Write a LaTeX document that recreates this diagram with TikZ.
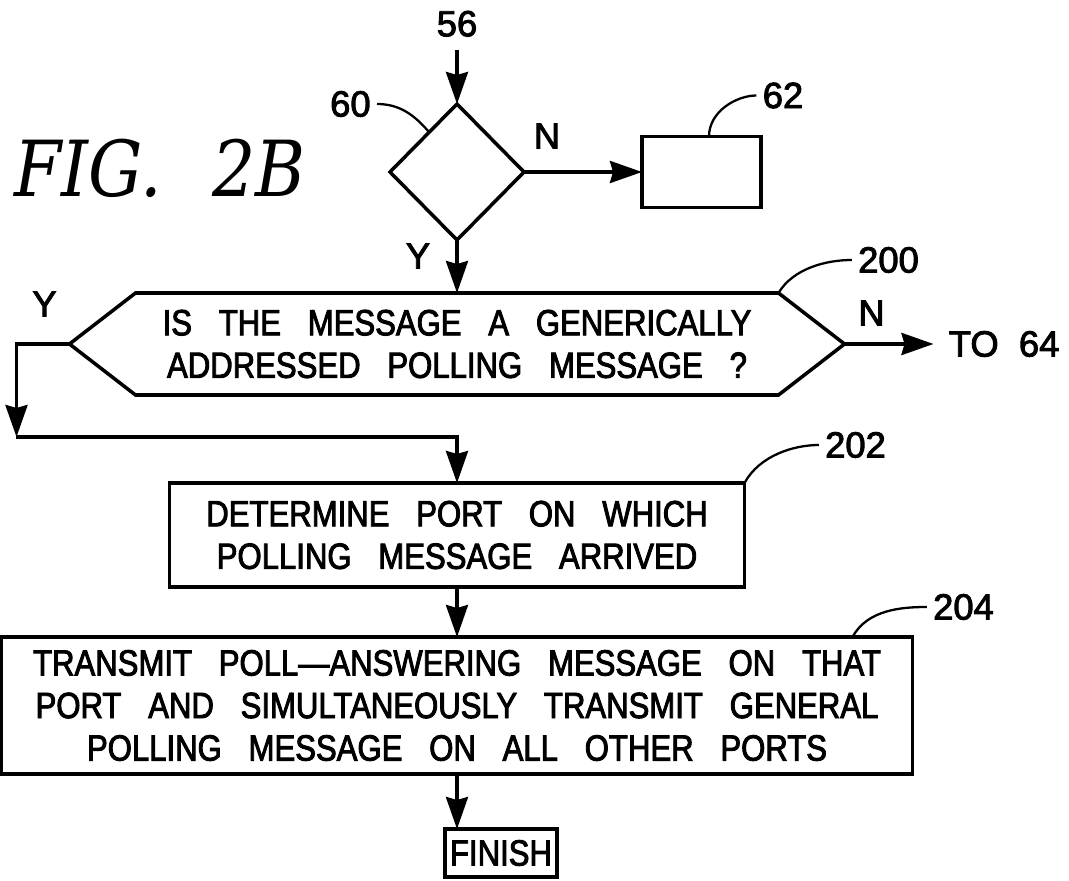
\documentclass[tikz,border=0pt]{standalone}
\usepackage{fontspec}
\newfontfamily\flowfont{Liberation Sans}[FakeStretch=0.855,WordSpace=3.1,FakeBold=2.5]
\newfontfamily\labfont{Liberation Sans}[WordSpace=2,FakeBold=2.5]
\newfontfamily\figfont{DejaVu Serif}[FakeStretch=0.88]
\usetikzlibrary{arrows.meta}
\usetikzlibrary{shapes.geometric}
\usetikzlibrary{positioning,calc}

\tikzset{
  decision/.style={diamond, draw, line width=2pt, aspect=1, inner sep=0pt,
    outer sep=0pt, minimum width=2.68cm, minimum height=2.72cm},
  flowbox/.style={draw, line width=2pt, align=center, inner sep=0pt,
    outer sep=0pt, font=\flowfont\fontsize{20.7}{24.2}\selectfont},
  lab/.style={inner sep=0.12cm, font=\labfont\fontsize{20.7}{24}\selectfont},
  flow/.style={line width=2pt, -{Stealth[length=6.4mm,width=4.4mm,inset=0.6mm]}},
  lead/.style={line width=1.3pt},
}

\begin{document}
\begin{tikzpicture}
   \useasboundingbox (0,0) rectangle (21.38,-17.62);

   % first test and its side box
   \node[decision] (d60) at (9.14,-3.44) {};
   \coordinate[above=1.08cm of d60.north] (s56);
   \node[lab, above=0.14cm of s56] (l56) {56};
   \node[lab, left=1.6cm of d60.north] (l60) {60};
   \node[flowbox, minimum width=2.38cm, minimum height=1.42cm,
      right=2.36cm of d60] (b62) {};
   \node[lab] (l62) at ($(b62.north east)+(0.44,0.82)$) {62};
   \node[lab] (n60) at ($(d60.east)+(0.46,0.72)$) {N};
   \node[lab] (y60) at ($(d60.south)+(-0.78,-0.32)$) {Y};

   \node[font=\figfont\fontsize{44}{48}\selectfont\itshape] (fig) at (3.2,-3.36)
      {FIG.\hspace{1.0cm}2B};

   % generic polling test
   \node[flowbox, draw=none, minimum width=12.86cm, minimum height=2.04cm,
      below=1.06cm of d60] (q200)
      {IS THE MESSAGE A GENERICALLY\\ADDRESSED POLLING MESSAGE ?};
   \coordinate[left=1.32cm of q200.west]  (h200w);
   \coordinate[right=1.32cm of q200.east] (h200e);
   \draw[line width=2pt] (q200.north west) -- (q200.north east) -- (h200e)
      -- (q200.south east) -- (q200.south west) -- (h200w) -- cycle;
   \node[lab] (l200) at ($(q200.north east)+(2.2,0.66)$) {200};
   \node[lab] (y200) at ($(h200w)+(-0.5,0.8)$) {Y};
   \node[lab] (n200) at ($(h200e)+(0.54,0.62)$) {N};
   \node[lab, inner sep=0.3cm, right=1.78cm of h200e] (to64) {TO 64};
   \coordinate[below left=1.86cm and 1.06cm of h200w] (yb);

   % port and transmit boxes
   \node[flowbox, minimum width=11.5cm, minimum height=2.08cm,
      below=1.76cm of q200] (b202)
      {DETERMINE PORT ON WHICH\\POLLING MESSAGE ARRIVED};
   \node[lab] (l202) at ($(b202.north east)+(2.22,0.76)$) {202};

   \node[flowbox, minimum width=18.22cm, minimum height=2.74cm,
      below=1.0cm of b202] (b204)
      {TRANSMIT POLL—ANSWERING MESSAGE ON THAT\\
       PORT AND SIMULTANEOUSLY TRANSMIT GENERAL\\
       POLLING MESSAGE ON ALL OTHER PORTS};
   \node[lab] (l204) at ($(b204.north east)+(1.02,0.6)$) {204};

   \node[flowbox, inner xsep=0.1cm, minimum height=0.96cm,
      below right=1.1cm and -0.24cm of b204.south] (fin) {FINISH};

   % reference leaders
   \draw[lead] (l60.east) .. controls +(0.45,0) and +(-0.3,0.35) .. (d60.125);
   \draw[lead] ($(b62.north)+(0.15,0)$) .. controls +(0,0.5) and +(-0.4,0) .. (l62.west);
   \draw[lead] (q200.north east) .. controls +(0.3,0.5) and +(-0.5,0) .. (l200.west);
   \draw[lead] (b202.north east) .. controls +(0.3,0.55) and +(-0.5,0) .. (l202.west);
   \draw[lead] ($(b204.north east)+(-1.2,0)$) .. controls +(0.3,0.55) and +(-0.5,0) .. (l204.west);

   % flow
   \draw[flow] (s56) -- (d60.north);
   \draw[flow] (d60.east) -- (b62.west);
   \draw[flow] (d60.south) -- (q200.north);
   \draw[flow] (h200e) -- (to64.west);
   \draw[flow] (h200w) -| (yb);
   \draw[flow] (yb) -| (b202.north);
   \draw[flow] (b202.south) -- (b204.north);
   \draw[flow] (b204.south) -- (b204.south |- fin.north);
\end{tikzpicture}
\end{document}
